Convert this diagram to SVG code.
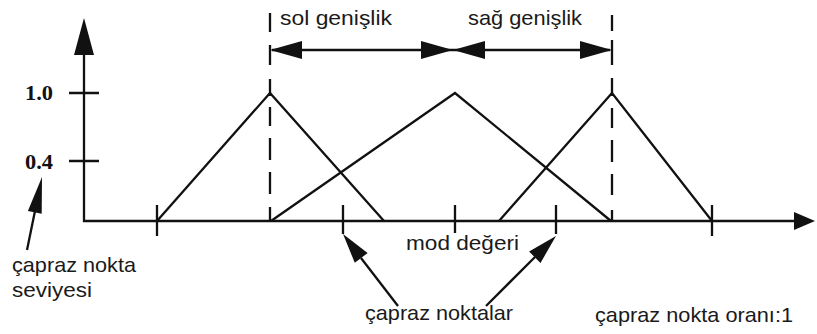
<svg xmlns="http://www.w3.org/2000/svg" width="817" height="334" viewBox="0 0 817 334">
<style>
.ln{stroke:#111;stroke-width:2.3;fill:none;stroke-linecap:butt;stroke-linejoin:miter}
.hd{fill:#111;stroke:none}
.lbl{font-family:"Liberation Sans",Arial,sans-serif;font-size:21px;fill:#1a1a1a}
.num{font-family:"Liberation Serif","Times New Roman",serif;font-size:21px;font-weight:bold;fill:#111}
</style>
<rect width="817" height="334" fill="#fff"/>
<g id="axes">
  <path class="ln" d="M84,50 V221 H797"/>
  <polygon class="hd" points="84,18 74,55 94,55"/>
  <polygon class="hd" points="815,221 794,212 794,230"/>
  <path class="ln" d="M69,93 H99 M69,161 H99"/>
  <path class="ln" d="M157,205 V236 M343,205 V234 M455,205 V233 M556,205 V234 M712,205 V236"/>
  <text class="num" x="25" y="100" textLength="28" lengthAdjust="spacingAndGlyphs">1.0</text>
  <text class="num" x="25" y="169" textLength="28" lengthAdjust="spacingAndGlyphs">0.4</text>
</g>
<g id="triangles">
  <polyline class="ln" points="157,221 270,93 384,221"/>
  <polyline class="ln" points="271,221 455,93 611,221"/>
  <polyline class="ln" points="499,221 612,93 712,221"/>
</g>
<g id="dashed-lines">
  <path class="ln" d="M270,13 V32 M270,45 V65 M270,79 V96 M270,107 V126 M270,138 V160 M270,172 V194 M270,207 V221"/>
  <path class="ln" d="M612,15 V31 M612,40 V65 M612,78 V96 M612,108 V128 M612,140 V162 M612,174 V195 M612,210 V221"/>
</g>
<g id="width-arrows">
  <line class="ln" x1="272" y1="50" x2="610" y2="50"/>
  <polygon class="hd" points="270,50 302,41 302,59"/>
  <polygon class="hd" points="453,50 421,41 421,59"/>
  <polygon class="hd" points="453,50 485,41 485,59"/>
  <polygon class="hd" points="612,50 580,41 580,59"/>
  <text class="lbl" x="280" y="25" textLength="112" lengthAdjust="spacingAndGlyphs">sol genişlik</text>
  <text class="lbl" x="468" y="25" textLength="114" lengthAdjust="spacingAndGlyphs">sağ genişlik</text>
</g>
<g id="connectors">
  <line class="ln" x1="27" y1="250" x2="35" y2="211"/>
  <polygon class="hd" points="42,177 41.7,213.7 27.9,210.9"/>
  <line class="ln" x1="398" y1="306" x2="361" y2="258"/>
  <polygon class="hd" points="343,234 367.6,253 354.8,262.8"/>
  <line class="ln" x1="486" y1="306" x2="535" y2="257"/>
  <polygon class="hd" points="556,236 540.5,262.9 529.1,251.6"/>
</g>
<g id="label-level">
  <text class="lbl" x="12" y="272" textLength="124" lengthAdjust="spacingAndGlyphs">çapraz nokta</text>
  <text class="lbl" x="12" y="297" textLength="80" lengthAdjust="spacingAndGlyphs">seviyesi</text>
</g>
<g id="label-mode">
  <text class="lbl" x="406" y="250" textLength="113" lengthAdjust="spacingAndGlyphs">mod değeri</text>
</g>
<g id="label-points">
  <text class="lbl" x="365" y="320" textLength="148" lengthAdjust="spacingAndGlyphs">çapraz noktalar</text>
</g>
<g id="label-ratio">
  <text class="lbl" x="595" y="322" textLength="198" lengthAdjust="spacingAndGlyphs">çapraz nokta oranı:1</text>
</g>
</svg>
